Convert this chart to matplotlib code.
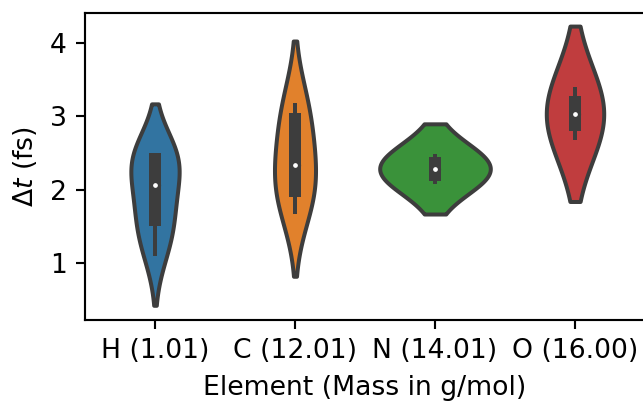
import numpy as np
import matplotlib
matplotlib.use("Agg")
import matplotlib.pyplot as plt

# Time-step spread per element
elements = ["H (1.01)", "C (12.01)", "N (14.01)", "O (16.00)"]
dt_H = [1.13, 1.40, 1.59, 1.75, 2.07, 2.40, 2.42, 2.45, 2.47]
dt_C = [1.70, 1.88, 1.99, 2.15, 2.34, 2.48, 2.97, 3.08, 3.15]
dt_N = [2.11, 2.15, 2.20, 2.25, 2.29, 2.33, 2.37, 2.42, 2.46]
dt_O = [2.70, 2.74, 2.88, 2.96, 3.03, 3.10, 3.19, 3.33, 3.37]
samples = [dt_H, dt_C, dt_N, dt_O]

palette = ["#3274a1", "#e1812c", "#3a923a", "#c03d3e"]
line_gray = "#3d3d3d"

# kernel settings and violin widths (category units)
bandwidths = [0.40, 0.50, 0.32, 0.60]
cuts = [1.75, 1.75, 1.37, 1.43]
widths = [0.345, 0.293, 0.79, 0.41]

S = 1.92  # line/text scale
plt.rcParams.update({
    "font.family": "DejaVu Sans",
    "font.size": 10 * S,
    "axes.linewidth": 0.8 * S,
    "xtick.major.size": 3.4 * S,
    "ytick.major.size": 3.4 * S,
    "xtick.major.width": 0.8 * S,
    "ytick.major.width": 0.8 * S,
    "xtick.major.pad": 3.5 * S,
    "ytick.major.pad": 3.5 * S,
    "axes.labelpad": 4.0 * S,
})

fig = plt.figure(figsize=(6.43, 4.01), dpi=100)
ax = fig.add_axes([85 / 643, 81 / 401, 560 / 643, 307.3 / 401])


def gaussian_kde_curve(values, bw, cut, gridsize=200):
    v = np.asarray(values, dtype=float)
    grid = np.linspace(v.min() - cut * bw, v.max() + cut * bw, gridsize)
    z = (grid[:, None] - v[None, :]) / bw
    dens = np.exp(-0.5 * z ** 2).sum(axis=1) / (len(v) * bw * np.sqrt(2 * np.pi))
    return grid, dens


for i, vals in enumerate(samples):
    grid, dens = gaussian_kde_curve(vals, bandwidths[i], cuts[i])
    half = dens / dens.max() * widths[i] / 2
    ax.fill_betweenx(grid, i - half, i + half, facecolor=palette[i],
                     edgecolor=line_gray, linewidth=1.5 * S, zorder=1)

    arr = np.asarray(vals)
    q1, med, q3 = np.percentile(arr, [25, 50, 75])
    reach = 1.5 * (q3 - q1)
    lo = arr[arr >= q1 - reach].min()
    hi = arr[arr <= q3 + reach].max()
    ax.plot([i, i], [lo, hi], color=line_gray, linewidth=1.5 * S, zorder=2)
    ax.plot([i, i], [q1, q3], color=line_gray, linewidth=4.5 * S, zorder=2)
    ax.scatter([i], [med], s=(3 * S) ** 2, color="white", edgecolor=line_gray,
               linewidths=1.2 * S, zorder=3)

ax.set_xlim(-0.5, len(elements) - 0.5)
ax.set_ylim(0.23, 4.41)
ax.set_xticks(range(len(elements)))
ax.set_xticklabels(elements)
ax.set_yticks([1, 2, 3, 4])
ax.set_xlabel("Element (Mass in g/mol)")
ax.set_ylabel(r"$\Delta t$ (fs)")

fig.savefig("out.png", dpi=100, facecolor="white")
